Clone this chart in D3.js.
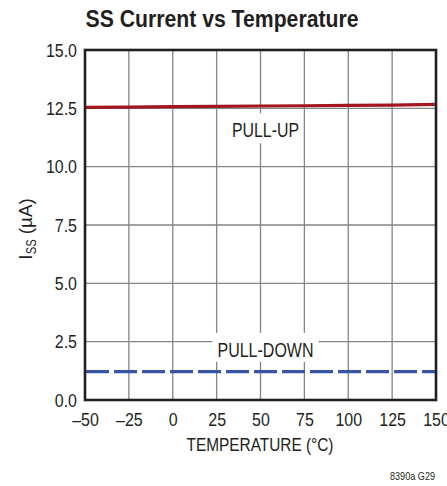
<!DOCTYPE html>
<html>
<head>
<meta charset="utf-8">
<script src="https://cdn.jsdelivr.net/npm/d3@7"></script>
<style>
  body { margin: 0; background: #fff; }
  text { font-family: "Liberation Sans", Arial, sans-serif; fill: #231f20; }
</style>
</head>
<body>
<div class="chart"></div>
<script>
const temps = [-50, -25, 0, 25, 50, 75, 100, 125, 150];
const pullUp = [12.54, 12.55, 12.57, 12.58, 12.6, 12.61, 12.63, 12.64, 12.67];
const pullDown = [1.22, 1.22, 1.22, 1.22, 1.22, 1.22, 1.22, 1.22, 1.22];
const xTicks = [-50, -25, 0, 25, 50, 75, 100, 125, 150];
const xTickLabels = ["–50", "–25", "0", "25", "50", "75", "100", "125", "150"];
const yTicks = [0, 2.5, 5, 7.5, 10, 12.5, 15];
const yTickLabels = ["0.0", "2.5", "5.0", "7.5", "10.0", "12.5", "15.0"];

const width = 447,
  height = 486;
const plotLeft = 85,
  plotRight = 436,
  plotTop = 50,
  plotBottom = 400;

// squeeze text to a condensed look (no narrow font installed)
const narrow = (sel, k) =>
  sel.each(function () {
    const w = this.getComputedTextLength();
    d3.select(this).attr("textLength", w * k).attr("lengthAdjust", "spacingAndGlyphs");
  });
const fitTo = (sel, w) => sel.attr("textLength", w).attr("lengthAdjust", "spacingAndGlyphs");

const svg = d3
  .select(".chart")
  .append("svg")
  .attr("width", width)
  .attr("height", height);

const xScale = d3.scaleLinear().domain([-50, 150]).range([plotLeft, plotRight]);
const yScale = d3.scaleLinear().domain([0, 15]).range([plotBottom, plotTop]);

// grid
svg
  .append("g")
  .selectAll("line")
  .data(xTicks.slice(1, -1))
  .enter()
  .append("line")
  .attr("x1", (d) => xScale(d))
  .attr("x2", (d) => xScale(d))
  .attr("y1", plotTop)
  .attr("y2", plotBottom)
  .attr("stroke", "#858585")
  .attr("stroke-width", 1.3);

svg
  .append("g")
  .selectAll("line")
  .data(yTicks.slice(1, -1))
  .enter()
  .append("line")
  .attr("x1", plotLeft)
  .attr("x2", plotRight)
  .attr("y1", (d) => yScale(d))
  .attr("y2", (d) => yScale(d))
  .attr("stroke", "#858585")
  .attr("stroke-width", 1.3);

// label backgrounds over the grid
const labels = [
  { text: "PULL-UP", x: 50, y: 11.26, w: 75, h: 30, tw: 67 },
  { text: "PULL-DOWN", x: 50, y: 1.85, w: 106, h: 29, tw: 96 },
];
svg
  .append("g")
  .selectAll("rect")
  .data(labels)
  .enter()
  .append("rect")
  .attr("x", (d) => xScale(d.x) + 5 - d.w / 2)
  .attr("y", (d) => yScale(d.y) - 24)
  .attr("width", (d) => d.w)
  .attr("height", (d) => d.h)
  .attr("fill", "#fff");

svg
  .append("g")
  .selectAll("text")
  .data(labels)
  .enter()
  .append("text")
  .attr("x", (d) => xScale(d.x) + 5)
  .attr("y", (d) => yScale(d.y))
  .attr("text-anchor", "middle")
  .style("font-size", "20px")
  .attr("textLength", (d) => d.tw)
  .attr("lengthAdjust", "spacingAndGlyphs")
  .text((d) => d.text);

// curves
const line = (vals) =>
  d3
    .line()
    .x((d, i) => xScale(temps[i]))
    .y((d) => yScale(d))(vals);

svg
  .append("path")
  .attr("d", line(pullUp))
  .attr("fill", "none")
  .attr("stroke", "#a3161f")
  .attr("stroke-width", 3.2);

svg
  .append("path")
  .attr("d", line(pullDown))
  .attr("fill", "none")
  .attr("stroke", "#3953a5")
  .attr("stroke-width", 3.2)
  .attr("stroke-dasharray", "23,5")
  .attr("stroke-dashoffset", -1);

// frame
svg
  .append("rect")
  .attr("x", plotLeft)
  .attr("y", plotTop)
  .attr("width", plotRight - plotLeft)
  .attr("height", plotBottom - plotTop)
  .attr("fill", "none")
  .attr("stroke", "#231f20")
  .attr("stroke-width", 2.6);

// axes
const xAxis = d3
  .axisBottom(xScale)
  .tickValues(xTicks)
  .tickFormat((d, i) => xTickLabels[i])
  .tickSize(0)
  .tickPadding(12.5);

const gx = svg.append("g").attr("transform", `translate(0,${plotBottom})`).call(xAxis);
gx.select(".domain").remove();
gx.selectAll("text")
  .style("font-family", null)
  .attr("font-family", null)
  .style("font-size", "19px")
  .attr("fill", "#231f20")
  .call(narrow, 0.84);
gx.attr("font-family", null);

const yAxis = d3
  .axisLeft(yScale)
  .tickValues(yTicks)
  .tickFormat((d, i) => yTickLabels[i])
  .tickSize(0)
  .tickPadding(8);

const gy = svg.append("g").attr("transform", `translate(${plotLeft},0)`).call(yAxis);
gy.select(".domain").remove();
gy.attr("font-family", null);
gy.selectAll("text")
  .style("font-size", "19px")
  .attr("fill", "#231f20")
  .call(narrow, 0.84);

// titles
svg
  .append("text")
  .attr("x", 222)
  .attr("y", 27)
  .attr("text-anchor", "middle")
  .style("font-size", "23px")
  .style("font-weight", "bold")
  .call(fitTo, 273)
  .text("SS Current vs Temperature");

svg
  .append("text")
  .attr("x", 260)
  .attr("y", 451)
  .attr("text-anchor", "middle")
  .style("font-size", "19px")
  .call(fitTo, 147)
  .text("TEMPERATURE (°C)");

const yl = svg
  .append("text")
  .attr("transform", "translate(32,229) rotate(-90)")
  .attr("text-anchor", "middle")
  .style("font-size", "19px");
yl.append("tspan").text("I");
yl.append("tspan").attr("dy", 4).style("font-size", "14px").call(fitTo, 15).text("SS");
yl.append("tspan").attr("dy", -4).call(fitTo, 41).text(" (µA)");

svg
  .append("text")
  .attr("x", 435)
  .attr("y", 480)
  .attr("text-anchor", "end")
  .style("font-size", "11px")
  .call(fitTo, 45)
  .text("8390a G29");
</script>
</body>
</html>
